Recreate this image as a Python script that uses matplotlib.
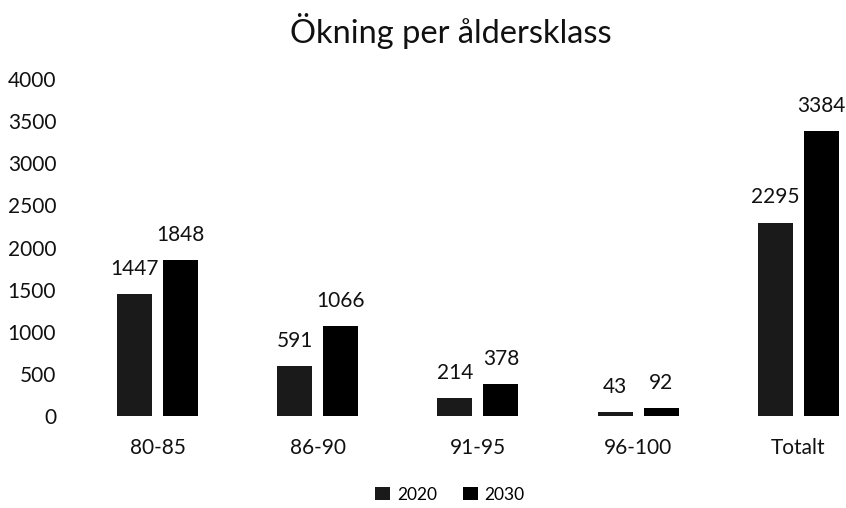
import matplotlib
matplotlib.use("Agg")
import matplotlib.pyplot as plt
import numpy as np

categories = ["80-85", "86-90", "91-95", "96-100", "Totalt"]
series_names = ["2020", "2030"]
values_2020 = [1447, 591, 214, 43, 2295]
values_2030 = [1848, 1066, 378, 92, 3384]
yticks = [0, 500, 1000, 1500, 2000, 2500, 3000, 3500, 4000]

plt.rcParams['font.family'] = ['Lato', 'DejaVu Sans']

fig = plt.figure(figsize=(8.46, 5.08), dpi=100)
ax = fig.add_axes([77/846, 1-416/508, 1-77/846, (416-79)/508])

sp = 160.2
x = np.arange(len(categories))
bw = 35/sp
off = 23/sp
b1 = ax.bar(x - off, values_2020, bw, color='#1a1a1a', label=series_names[0])
b2 = ax.bar(x + off, values_2030, bw, color='#000000', label=series_names[1])
for bars in (b1, b2):
    ax.bar_label(bars, padding=11, fontsize=15, color='#111111')

ax.set_xlim((77-157.5)/sp, (846-157.5)/sp)
ax.set_ylim(0, 4000)
ax.set_yticks(yticks)
ax.set_xticks(x)
ax.set_xticklabels(categories)
ax.tick_params(axis='both', length=0, labelsize=15, colors='#111111')
ax.tick_params(axis='y', pad=15)
ax.tick_params(axis='x', pad=16)
for s in ax.spines.values():
    s.set_visible(False)

fig.suptitle("Ökning per åldersklass", x=451/846, y=0.975, fontsize=23.5, color='#111111')
fig.legend(loc='lower center', bbox_to_anchor=(450/846, -0.02), ncol=2, frameon=False,
           fontsize=12.5, handlelength=0.85, handleheight=0.85, handletextpad=0.4,
           columnspacing=1.5)

fig.savefig("out.png", dpi=100)
